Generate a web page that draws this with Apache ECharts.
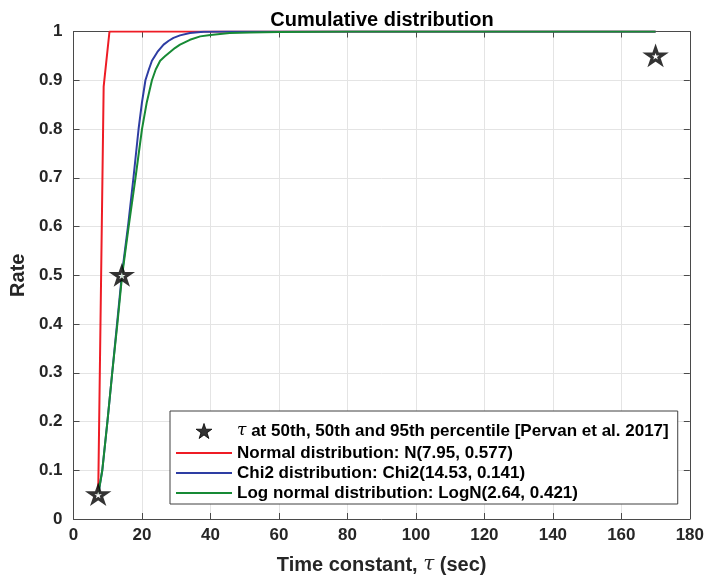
<!DOCTYPE html>
<html>
<head>
<meta charset="utf-8">
<script src="https://cdn.jsdelivr.net/npm/echarts@6/dist/echarts.min.js"></script>
<style>
  html, body { margin: 0; padding: 0; background: #ffffff; }
  #chart { width: 707px; height: 580px; }
</style>
</head>
<body>
<div id="chart"></div>
<script>
// ---- data ----
const titleText = 'Cumulative distribution';
const xAxisName = 'Time constant, τ (sec)';
const yAxisName = 'Rate';

const starName = 'τ at 50th, 50th and 95th percentile [Pervan et al. 2017]';
const normalName = 'Normal distribution: N(7.95, 0.577)';
const chi2Name = 'Chi2 distribution: Chi2(14.53, 0.141)';
const lognName = 'Log normal distribution: LogN(2.64, 0.421)';

const starPoints = [[7.2, 0.05], [14.1, 0.5], [170, 0.95]];

const normalCurve = [[7.2, 0.05], [8.8, 0.887], [10.5, 1.0], [170, 1.0]];

const chi2Curve = [
  [7.2, 0.05], [8.4, 0.1], [9.9, 0.2], [11.3, 0.3], [12.7, 0.4], [14.1, 0.5],
  [15.9, 0.6], [17.5, 0.7], [19.0, 0.8], [20.0, 0.855], [21.0, 0.9], [22.0, 0.922],
  [22.9, 0.94], [24.5, 0.958], [26.3, 0.973], [27.8, 0.981], [29.2, 0.987],
  [31.1, 0.992], [34.0, 0.997], [38.0, 0.9995], [45.0, 1.0], [170, 1.0]
];

const lognCurve = [
  [7.2, 0.05], [8.4, 0.1], [9.9, 0.2], [11.3, 0.3], [12.8, 0.4], [14.2, 0.5],
  [16.1, 0.6], [18.1, 0.7], [20.0, 0.8], [21.4, 0.855], [22.9, 0.9], [24.0, 0.922],
  [25.3, 0.94], [26.7, 0.949], [28.2, 0.958], [29.6, 0.966], [31.1, 0.973],
  [34.0, 0.983], [37.0, 0.99], [40.0, 0.993], [45.6, 0.997],
  [51.4, 0.998], [60.0, 0.999], [80.0, 1.0], [170, 1.0]
];

const xMin = 0, xMax = 180, xStep = 20;
const yMin = 0, yMax = 1, yStep = 0.1;

// ---- styling ----
const FONT = '"Liberation Sans", Arial, Helvetica, sans-serif';
const TXT = '#262626';
const AX = '#4a4a4a';
const GRID = '#e4e4e4';
const tauStyle = { fontFamily: '"DejaVu Serif", "Liberation Serif", serif', fontStyle: 'italic', fontWeight: 'normal', color: TXT };
const withTau = s => s.replace('τ', '{t|τ}');
const starPath = 'path://M50 0L61.2 34.5L97.6 34.5L68.2 55.9L79.4 90.5L50 69.1L20.6 90.5L31.8 55.9L2.4 34.5L38.8 34.5Z';
const lineIcon = 'path://M0 0H100V3.6H0Z';

const chart = echarts.init(document.getElementById('chart'), null, { renderer: 'canvas' });

const baseX = {
  type: 'value', min: xMin, max: xMax, interval: xStep,
  axisLine: { show: true, onZero: false, lineStyle: { color: AX, width: 1 } },
  axisTick: { show: true, inside: true, length: 6, lineStyle: { color: AX } },
  splitLine: { show: true, lineStyle: { color: GRID, width: 1 } }
};
const baseY = {
  type: 'value', min: yMin, max: yMax, interval: yStep,
  axisLine: { show: true, onZero: false, lineStyle: { color: AX, width: 1 } },
  axisTick: { show: true, inside: true, length: 6, lineStyle: { color: AX } },
  splitLine: { show: true, lineStyle: { color: GRID, width: 1 } }
};

chart.setOption({
  animation: false,
  backgroundColor: '#ffffff',
  title: {
    text: titleText, left: 382, textAlign: 'center', top: 10, padding: 0,
    textStyle: { fontFamily: FONT, fontWeight: 'bold', fontSize: 20, color: '#000' }
  },
  grid: { left: 73, right: 17, top: 31.5, bottom: 60, containLabel: false },
  xAxis: [
    Object.assign({}, baseX, {
      position: 'bottom',
      name: withTau(xAxisName), nameLocation: 'middle', nameGap: 36,
      nameTextStyle: { fontFamily: FONT, fontWeight: 'bold', fontSize: 20, color: TXT,
        rich: { t: Object.assign({}, tauStyle, { fontSize: 20 }) } },
      axisLabel: { fontFamily: FONT, fontWeight: 'bold', fontSize: 17, color: TXT, margin: 8 }
    }),
    Object.assign({}, baseX, {
      position: 'top', axisLabel: { show: false }, splitLine: { show: false }
    })
  ],
  yAxis: [
    Object.assign({}, baseY, {
      position: 'left',
      name: yAxisName, nameLocation: 'middle', nameGap: 41, nameRotate: 90,
      nameTextStyle: { fontFamily: FONT, fontWeight: 'bold', fontSize: 20, color: TXT },
      axisLabel: { fontFamily: FONT, fontWeight: 'bold', fontSize: 17, color: TXT, margin: 11 }
    }),
    Object.assign({}, baseY, {
      position: 'right', axisLabel: { show: false }, splitLine: { show: false }
    })
  ],
  legend: {
    orient: 'vertical', left: 170, top: 411,
    padding: [8, 9, 1, 6],
    itemWidth: 56, itemHeight: 15, itemGap: 0,
    backgroundColor: '#ffffff',
    borderColor: '#404040', borderWidth: 1,
    textStyle: { fontFamily: FONT, fontWeight: 'bold', fontSize: 17, color: '#000', lineHeight: 20,
      rich: { t: Object.assign({}, tauStyle, { fontSize: 17, color: '#000' }) } },
    formatter: withTau,
    data: [
      { name: starName, textStyle: { lineHeight: 24 }, itemStyle: { color: '#000', borderColor: '#000', borderWidth: 1 } },
      { name: normalName, icon: lineIcon },
      { name: chi2Name, icon: lineIcon },
      { name: lognName, icon: lineIcon }
    ]
  },
  series: [
    {
      name: starName, type: 'scatter', z: 5,
      symbol: starPath, symbolSize: [17, 16], symbolKeepAspect: true,
      itemStyle: { color: '#ffffff', borderColor: '#000', borderWidth: 3 },
      data: starPoints
    },
    {
      name: normalName, type: 'line', showSymbol: false, symbol: 'none',
      lineStyle: { color: '#ee1c25', width: 2 }, itemStyle: { color: '#ee1c25' },
      data: normalCurve
    },
    {
      name: chi2Name, type: 'line', showSymbol: false, symbol: 'none',
      lineStyle: { color: '#2e3da3', width: 2 }, itemStyle: { color: '#2e3da3' },
      data: chi2Curve
    },
    {
      name: lognName, type: 'line', showSymbol: false, symbol: 'none',
      lineStyle: { color: '#178a35', width: 2 }, itemStyle: { color: '#178a35' },
      data: lognCurve
    }
  ]
});
</script>
</body>
</html>
